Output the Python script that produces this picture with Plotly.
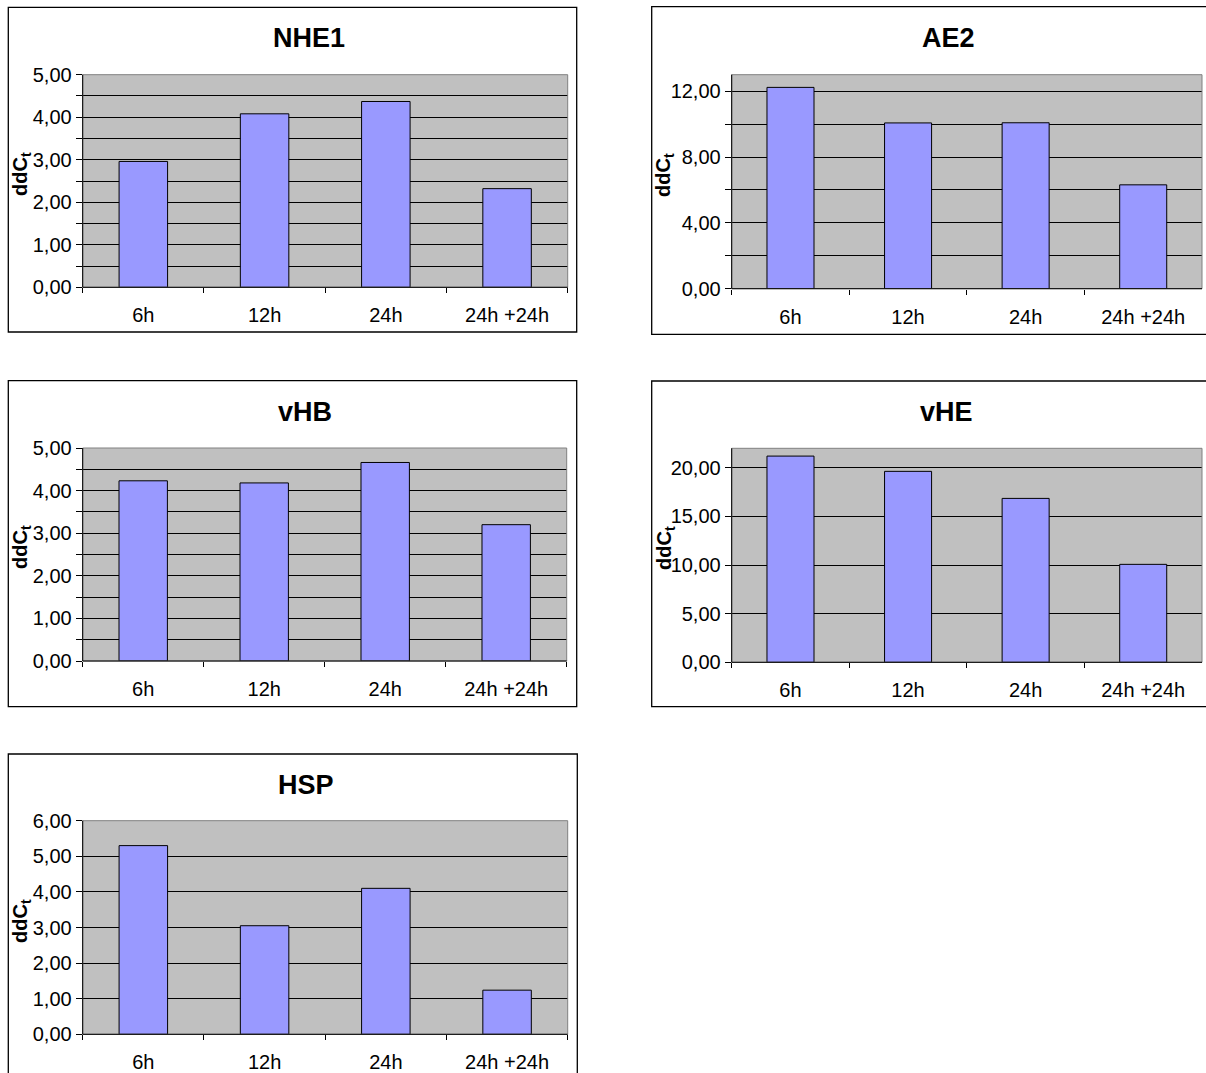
import plotly.graph_objects as go

W, H = 1206, 1073

categories = ["6h", "12h", "24h", "24h +24h"]
titles = ["NHE1", "AE2", "vHB", "vHE", "HSP"]
nhe1 = [2.96, 4.08, 4.37, 2.32]
ae2 = [12.23, 10.07, 10.08, 6.31]
vhb = [4.23, 4.18, 4.66, 3.20]
vhe = [21.20, 19.63, 16.85, 10.07]
hsp = [5.30, 3.05, 4.10, 1.24]
series = [nhe1, ae2, vhb, vhe, hsp]
y_max = [5, 13, 5, 22, 6]
y_major = [1, 4, 1, 5, 1]
y_minor = [0.5, 2, 0.5, 5, 1]

# layout in pixels: (box x0, y0, x1, y1), (plot x0, y0, x1, y1), title centre, y-title centre
panels = [
    dict(box=(8.3, 7.3, 576.7, 332), plot=(82.7, 74.7, 567.7, 287.3), title=(309, 38.3), ytitle=(21, 174)),
    dict(box=(651.7, 6.7, 1210, 334.3), plot=(731.7, 74.7, 1202, 288.7), title=(948, 38.3), ytitle=(665, 175)),
    dict(box=(8.3, 380.7, 576.7, 706.7), plot=(82.7, 448, 566.7, 661), title=(305, 412), ytitle=(21, 547)),
    dict(box=(651.7, 381, 1210, 706.7), plot=(731.7, 448.3, 1202, 662.3), title=(946, 412), ytitle=(665, 548)),
    dict(box=(8.3, 754, 577.3, 1078), plot=(82.7, 820.7, 567.7, 1034.3), title=(306, 785), ytitle=(21, 921)),
]

FONT = "Liberation Sans, Arial, sans-serif"

def px(x):
    return x / W

def py(y):
    return 1 - y / H

fig = go.Figure()
shapes = []
annotations = []

for i, (p, vals) in enumerate(zip(panels, series)):
    n = i + 1
    xa = "x" if n == 1 else f"x{n}"
    ya = "y" if n == 1 else f"y{n}"
    fig.add_trace(go.Bar(
        x=categories, y=vals, xaxis=xa, yaxis=ya,
        marker=dict(color="#9999FF", line=dict(color="black", width=1)),
        showlegend=False, hoverinfo="skip",
    ))
    x0, y0, x1, y1 = p["plot"]
    xkey = "xaxis" if n == 1 else f"xaxis{n}"
    ykey = "yaxis" if n == 1 else f"yaxis{n}"
    fig.layout[xkey] = dict(
        domain=[px(x0), px(x1)], anchor=ya, type="category",
        range=[-0.5, 3.5], tickson="boundaries", ticks="outside", ticklen=5,
        tickcolor="black", showline=False, showgrid=False, zeroline=False,
        tickfont=dict(family=FONT, size=20, color="black"),
        ticklabelstandoff=14, fixedrange=True,
    )
    fig.layout[ykey] = dict(
        domain=[py(y1), py(y0)], anchor=xa, range=[0, y_max[i]],
        tick0=0, dtick=y_major[i], tickformat=".2f",
        ticks="outside", ticklen=6, tickcolor="black",
        showgrid=True, gridcolor="black", gridwidth=1,
        showline=False, zeroline=False,
        minor=dict(tick0=0, dtick=y_minor[i], showgrid=True, gridcolor="black",
                   gridwidth=1, ticks="outside", ticklen=6, tickcolor="black"),
        tickfont=dict(family=FONT, size=20, color="black"), fixedrange=True,
    )
    # plot-area background and border
    shapes.append(dict(type="rect", xref=f"{xa} domain", yref=f"{ya} domain",
                       x0=0, x1=1, y0=0, y1=1, fillcolor="#C0C0C0",
                       line=dict(width=0), layer="below"))
    shapes.append(dict(type="rect", xref=f"{xa} domain", yref=f"{ya} domain",
                       x0=0, x1=1, y0=0, y1=1, line=dict(color="#808080", width=1),
                       layer="above"))
    shapes.append(dict(type="line", xref=f"{xa} domain", yref=f"{ya} domain",
                       x0=0, x1=0, y0=0, y1=1, line=dict(color="black", width=1),
                       layer="above"))
    shapes.append(dict(type="line", xref=f"{xa} domain", yref=f"{ya} domain",
                       x0=0, x1=1, y0=0, y1=0, line=dict(color="black", width=1),
                       layer="above"))
    # outer chart box
    bx0, by0, bx1, by1 = p["box"]
    shapes.append(dict(type="rect", xref="paper", yref="paper",
                       x0=px(bx0), x1=px(bx1), y0=py(by1), y1=py(by0),
                       line=dict(color="black", width=1.3), layer="above"))
    tx, ty = p["title"]
    annotations.append(dict(text=f"<b>{titles[i]}</b>", xref="paper", yref="paper",
                            x=px(tx), y=py(ty), xanchor="center", yanchor="middle",
                            showarrow=False, font=dict(family=FONT, size=27, color="black")))
    yx, yy = p["ytitle"]
    annotations.append(dict(text="<b>ddC<sub>t</sub></b>", xref="paper", yref="paper",
                            x=px(yx), y=py(yy), xanchor="center", yanchor="middle",
                            textangle=-90, showarrow=False,
                            font=dict(family=FONT, size=20, color="black")))

fig.update_layout(
    width=W, height=H, margin=dict(l=0, r=0, t=0, b=0, autoexpand=False),
    paper_bgcolor="white", plot_bgcolor="rgba(0,0,0,0)",
    bargap=0.6, separators=",.", shapes=shapes, annotations=annotations,
    font=dict(family=FONT, color="black"),
)

fig.write_html("out.html", config={"displayModeBar": False},
               post_script="document.body.style.margin='0px';document.body.style.overflow='hidden';")
